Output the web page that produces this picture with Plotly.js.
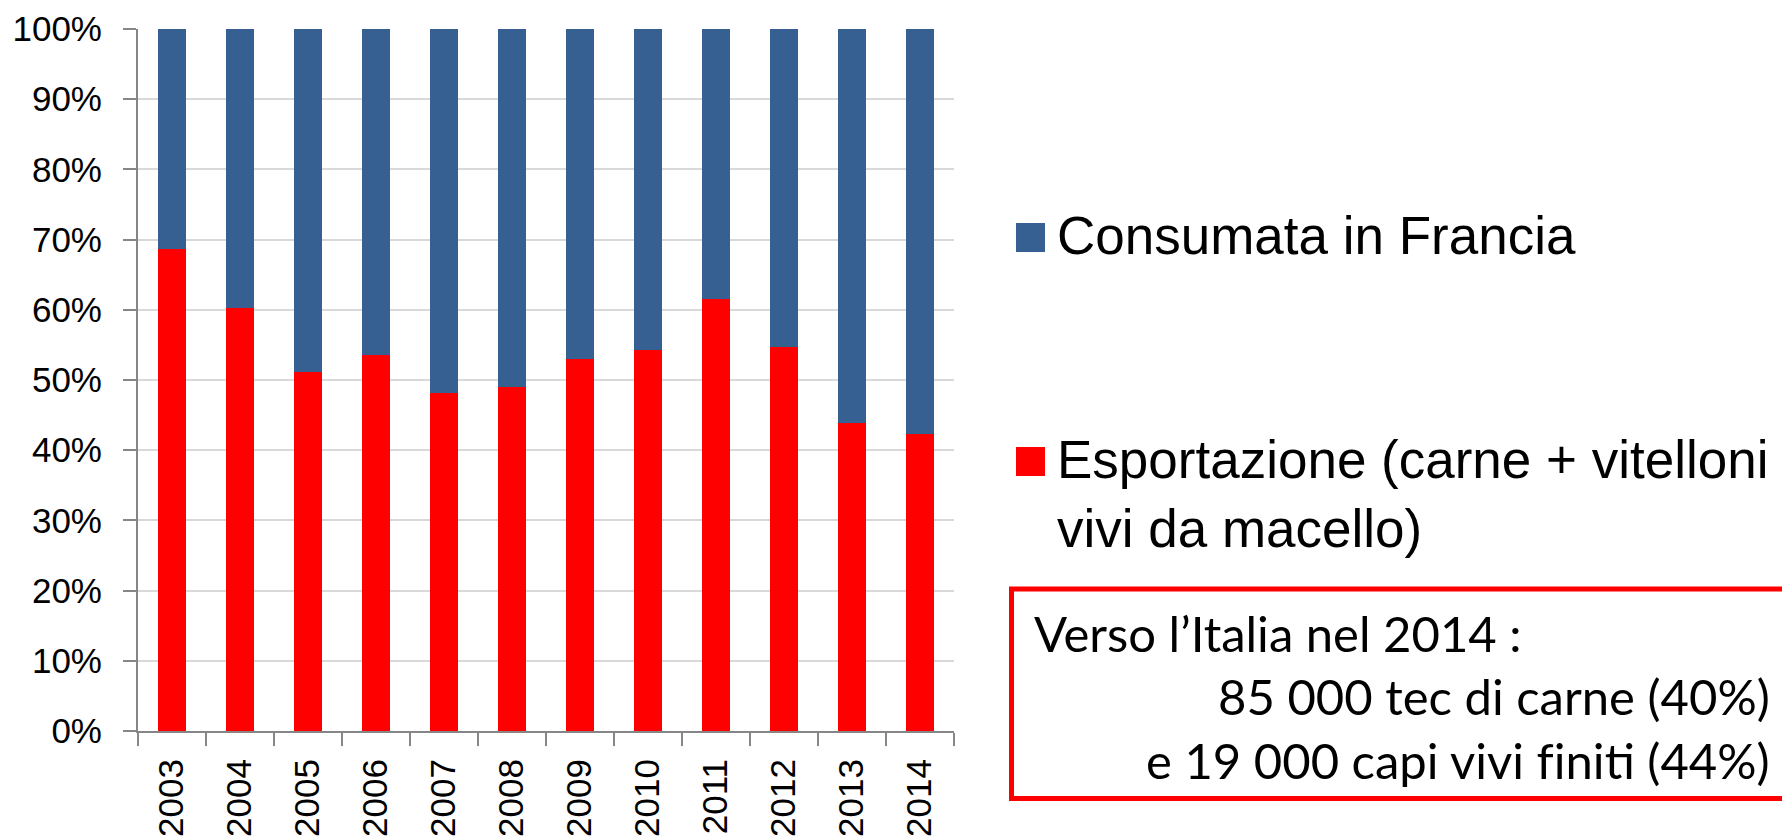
<!DOCTYPE html>
<html>
<head>
<meta charset="utf-8">
<script src="https://cdn.plot.ly/plotly-3.0.1.min.js"></script>
<style>
  html, body { margin: 0; padding: 0; background: #ffffff; }
  #chart { width: 1782px; height: 839px; }
</style>
</head>
<body>
<div id="chart"></div>
<script>
// ---- data ----
const years = ["2003","2004","2005","2006","2007","2008","2009","2010","2011","2012","2013","2014"];
const esportazione = [68.6, 60.3, 51.2, 53.5, 48.1, 49.0, 53.0, 54.3, 61.5, 54.7, 43.9, 42.3];
const consumataFrancia = [31.4, 39.7, 48.8, 46.5, 51.9, 51.0, 47.0, 45.7, 38.5, 45.3, 56.1, 57.7];
const yTickVals = [0, 10, 20, 30, 40, 50, 60, 70, 80, 90, 100];
const yTickText = ["0%","10%","20%","30%","40%","50%","60%","70%","80%","90%","100%"];
const legendLabels = ["Consumata in Francia", "Esportazione (carne + vitelloni<br>vivi da macello)"];
const boxLines = ["Verso l\u2019Italia nel 2014 :", "85 000 tec di carne (40%)", "e 19 000 capi vivi f\u200Ciniti (44%)"];

// ---- styles ----
const BLUE = "#376092";
const RED = "#ff0000";
const AXIS = "#868686";
const GRID = "#d9d9d9";
const W = 1782, H = 839;
const L = 138, R = 954, T = 29, B = 731;
const px = p => (p - L) / (R - L);
const py = p => (B - p) / (B - T);

const traces = [
  { type: "bar", name: "Esportazione", x: years, y: esportazione,
    marker: { color: RED }, hoverinfo: "skip" },
  { type: "bar", name: "Consumata in Francia", x: years, y: consumataFrancia,
    marker: { color: BLUE }, hoverinfo: "skip" }
];

const axisFont = { family: "Liberation Sans, Arial, sans-serif", size: 35, color: "#000000" };
const legFont = { family: "Liberation Sans, Arial, sans-serif", size: 53, color: "#000000" };
const boxFont = { family: "Lato, Carlito, Calibri, sans-serif", size: 49, color: "#000000" };

const shapes = [
  { type: "rect", xref: "paper", yref: "paper", x0: px(1016), x1: px(1045), y0: py(223), y1: py(252),
    fillcolor: BLUE, line: { width: 0 } },
  { type: "rect", xref: "paper", yref: "paper", x0: px(1016), x1: px(1045), y0: py(447), y1: py(476),
    fillcolor: RED, line: { width: 0 } },
  { type: "rect", xref: "paper", yref: "paper", x0: px(1011.5), x1: px(1800), y0: py(589), y1: py(798.5),
    fillcolor: "rgba(0,0,0,0)", line: { color: RED, width: 5 } }
];

const annotations = [
  { xref: "paper", yref: "paper", x: px(1055), y: py(236), xanchor: "left", yanchor: "middle",
    text: legendLabels[0], showarrow: false, font: legFont, align: "left" },
  { xref: "paper", yref: "paper", x: px(1055), y: py(494), xanchor: "left", yanchor: "middle",
    text: legendLabels[1], showarrow: false, font: legFont, align: "left" },
  { xref: "paper", yref: "paper", x: px(1032), y: py(633), xanchor: "left", yanchor: "middle",
    text: boxLines[0], showarrow: false, font: boxFont, align: "left" },
  { xref: "paper", yref: "paper", x: px(1772), y: py(696), xanchor: "right", yanchor: "middle",
    text: boxLines[1], showarrow: false, font: boxFont, align: "right" },
  { xref: "paper", yref: "paper", x: px(1772), y: py(760), xanchor: "right", yanchor: "middle",
    text: boxLines[2], showarrow: false, font: boxFont, align: "right" }
];

const layout = {
  width: W, height: H,
  margin: { l: L, r: W - R, t: T, b: H - B, autoexpand: false },
  paper_bgcolor: "#ffffff", plot_bgcolor: "#ffffff",
  barmode: "stack",
  bargap: 0.58,
  showlegend: false,
  xaxis: {
    type: "category",
    showline: true, linecolor: AXIS, linewidth: 2,
    ticks: "outside", ticklen: 13, tickwidth: 2, tickcolor: AXIS,
    tickson: "boundaries",
    tickangle: -90, tickfont: axisFont, ticklabelstandoff: 12,
    showgrid: false, zeroline: false, automargin: false
  },
  yaxis: {
    range: [0, 100],
    tickvals: yTickVals, ticktext: yTickText,
    showline: true, linecolor: AXIS, linewidth: 2,
    ticks: "outside", ticklen: 13, tickwidth: 2, tickcolor: AXIS,
    tickfont: axisFont, ticklabelstandoff: 14,
    showgrid: true, gridcolor: GRID, gridwidth: 2,
    zeroline: false, automargin: false
  },
  shapes: shapes,
  annotations: annotations
};

Plotly.newPlot("chart", traces, layout, { staticPlot: true, displayModeBar: false });
</script>
</body>
</html>
